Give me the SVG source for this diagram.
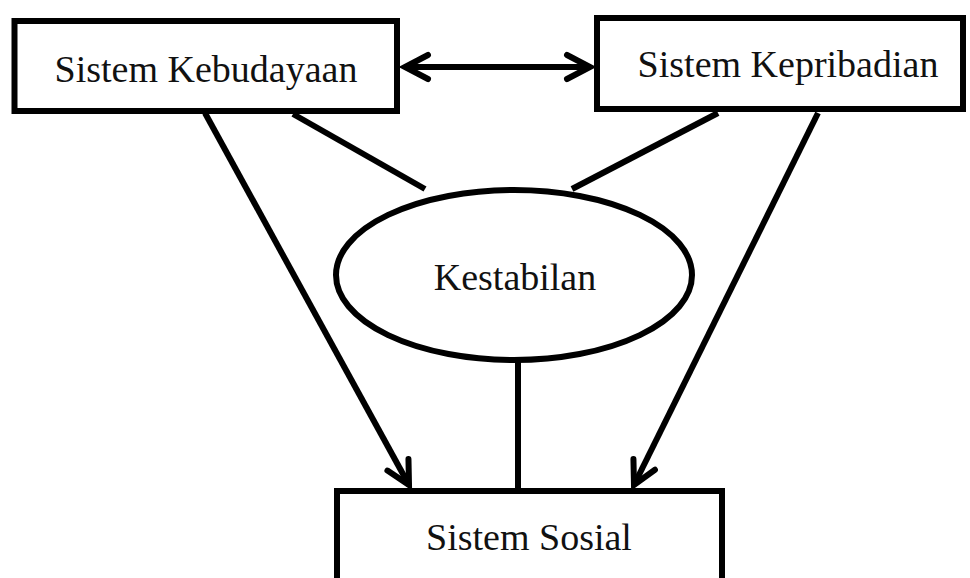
<svg xmlns="http://www.w3.org/2000/svg" width="970" height="578" viewBox="0 0 970 578">
<style>
.box{fill:#fff;stroke:#000;stroke-width:6}
.lbl{font-family:"Liberation Serif","Times New Roman",serif;font-size:38px;fill:#111;text-anchor:middle}
.con{fill:none;stroke:#000;stroke-width:6}
</style>
<defs>
<marker id="ah" markerUnits="userSpaceOnUse" markerWidth="40" markerHeight="40" viewBox="-30 -20 40 40" refX="0" refY="0" orient="auto-start-reverse">
<path d="M-23,-12 L0,0 L-23,12" fill="none" stroke="#000" stroke-width="6" stroke-linecap="round" stroke-linejoin="miter"/>
</marker>
</defs>
<rect width="970" height="578" fill="#fff"/>
<g id="connectors">
<line class="con" x1="405" y1="67" x2="590" y2="67" marker-start="url(#ah)" marker-end="url(#ah)"/>
<line class="con" x1="205" y1="113" x2="409" y2="485" marker-end="url(#ah)"/>
<line class="con" x1="818" y1="113" x2="634" y2="485" marker-end="url(#ah)"/>
<line class="con" x1="293" y1="114" x2="425" y2="189"/>
<line class="con" x1="718" y1="113" x2="572" y2="189"/>
<line class="con" x1="518" y1="362" x2="518" y2="490"/>
</g>
<g id="kebudayaan">
<rect class="box" x="14.5" y="21" width="382.5" height="90"/>
<text class="lbl" x="206" y="82">Sistem Kebudayaan</text>
</g>
<g id="kepribadian">
<rect class="box" x="597" y="18" width="366" height="91"/>
<text class="lbl" x="788" y="77">Sistem Kepribadian</text>
</g>
<g id="kestabilan">
<ellipse class="box" cx="514" cy="275" rx="178" ry="85"/>
<text class="lbl" x="515" y="290">Kestabilan</text>
</g>
<g id="sosial">
<rect class="box" x="337" y="491" width="385" height="110"/>
<text class="lbl" x="529" y="550">Sistem Sosial</text>
</g>
</svg>
